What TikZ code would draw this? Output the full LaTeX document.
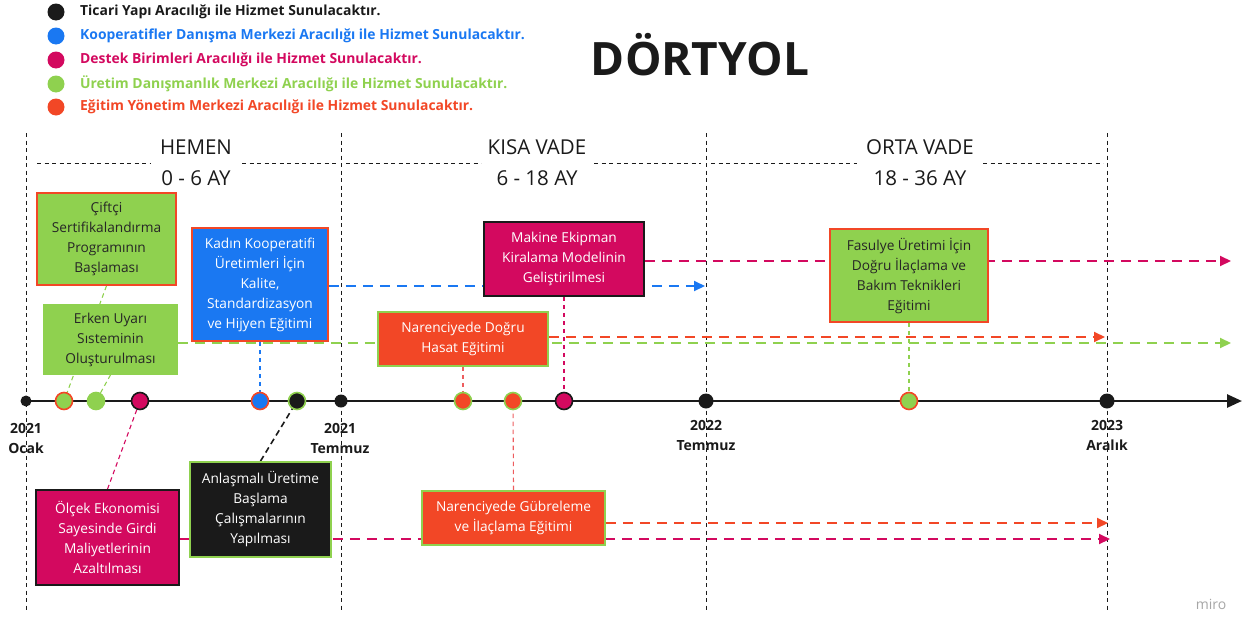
\documentclass[tikz,border=0pt]{standalone}
\usepackage{fontspec}
\setmainfont{Open Sans}
\usetikzlibrary{arrows.meta,backgrounds}
\definecolor{cblk}{HTML}{1A1A1A}
\definecolor{cblu}{HTML}{1A78F2}
\definecolor{cmag}{HTML}{D3095F}
\definecolor{cgrn}{HTML}{8FD14F}
\definecolor{corg}{HTML}{F24726}
\definecolor{ctxt}{HTML}{262626}
\begin{document}
\begin{tikzpicture}[x=1pt,y=-1pt,
  box/.style={draw, line width=1.8pt, align=center, inner sep=0pt,
    font=\fontsize{13.7}{20}\selectfont},
  mk/.style={circle, inner sep=0pt, minimum size=17, line width=1.6pt},
  bdot/.style={circle, inner sep=0pt, fill=cblk, draw=none},
  legdot/.style={circle, inner sep=0pt, minimum size=17, draw=none},
  legtxt/.style={anchor=west, inner sep=0pt, font=\fontsize{13.9}{15}\bfseries\selectfont},
  per/.style={inner sep=0pt, font=\fontsize{20.5}{22}\selectfont, text=cblk},
  lbl/.style={align=center, inner sep=0pt, font=\fontsize{14}{20}\bfseries\selectfont, text=cblk},
  grid/.style={cblk, line width=1pt, dash pattern=on 4pt off 3.5pt},
  conn/.style={line width=1.1pt, dash pattern=on 4.5pt off 3.5pt},
  dur/.style={line width=2pt, dash pattern=on 10pt off 7pt, -{Triangle[length=11pt,width=10pt]}}
]
\useasboundingbox (0,0) rectangle (1253,616);

% legend
\node[legdot, fill=cblk] (d1) at (56,12) {};
\node[legdot, fill=cblu] (d2) at (56,36) {};
\node[legdot, fill=cmag] (d3) at (56,60) {};
\node[legdot, fill=cgrn] (d4) at (56,84) {};
\node[legdot, fill=corg] (d5) at (56,107) {};
\node[legtxt, text=cblk] (t1) at (80,12) {Ticari Yapı Aracılığı ile Hizmet Sunulacaktır.};
\node[legtxt, text=cblu] (t2) at (80,36) {Kooperatifler Danışma Merkezi Aracılığı ile Hizmet Sunulacaktır.};
\node[legtxt, text=cmag] (t3) at (80,60) {Destek Birimleri Aracılığı ile Hizmet Sunulacaktır.};
\node[legtxt, text=cgrn] (t4) at (80,84) {Üretim Danışmanlık Merkezi Aracılığı ile Hizmet Sunulacaktır.};
\node[legtxt, text=corg] (t5) at (80,107) {Eğitim Yönetim Merkezi Aracılığı ile Hizmet Sunulacaktır.};

% title
\node[inner sep=0pt, font=\fontsize{46}{50}\bfseries\selectfont, text=cblk] (title) at (700,55) {DÖRTYOL};

% periods
\node[per] (p1a) at (196,147) {HEMEN};
\node[per] (p1b) at (196,178) {0 - 6 AY};
\node[per] (p2a) at (537,147) {KISA VADE};
\node[per] (p2b) at (537,178) {6 - 18 AY};
\node[per] (p3a) at (920,147) {ORTA VADE};
\node[per] (p3b) at (920,178) {18 - 36 AY};

% boxes
\node[box, fill=cgrn, draw=corg, text=ctxt, minimum width=139, minimum height=92] (b1) at (106.5,239)
  {Çiftçi\\Sertifikalandırma\\Programının\\Başlaması};
\node[box, fill=cgrn, draw=cgrn, text=ctxt, minimum width=133, minimum height=69] (b2) at (110.5,339.5)
  {Erken Uyarı\\Sısteminin\\Oluşturulması};
\node[box, fill=cblu, draw=corg, text=white, minimum width=136, minimum height=113] (b3) at (260,284.5)
  {Kadın Kooperatifi\\Üretimleri İçin\\Kalite,\\Standardizasyon\\ve Hijyen Eğitimi};
\node[box, fill=cmag, draw=cblk, text=white, minimum width=160, minimum height=74] (b4) at (564,259)
  {Makine Ekipman\\Kiralama Modelinin\\Geliştirilmesi};
\node[box, fill=corg, draw=cgrn, text=white, minimum width=170, minimum height=54] (b5) at (463,339)
  {Narenciyede Doğru\\Hasat Eğitimi};
\node[box, fill=cgrn, draw=corg, text=ctxt, minimum width=158, minimum height=93] (b6) at (909,275.5)
  {Fasulye Üretimi İçin\\Doğru İlaçlama ve\\Bakım Teknikleri\\Eğitimi};
\node[box, fill=cmag, draw=cblk, text=white, minimum width=143, minimum height=95] (b7) at (107.5,537.5)
  {Ölçek Ekonomisi\\Sayesinde Girdi\\Maliyetlerinin\\Azaltılması};
\node[box, fill=cblk, draw=cgrn, text=white, minimum width=141, minimum height=95] (b8) at (260.5,509.5)
  {Anlaşmalı Üretime\\Başlama\\Çalışmalarının\\Yapılması};
\node[box, fill=corg, draw=cgrn, text=white, minimum width=183, minimum height=54] (b9) at (513.5,518)
  {Narenciyede Gübreleme\\ve İlaçlama Eğitimi};

% markers
\node[bdot, minimum size=11] (m0) at (26,401) {};
\node[mk, fill=cgrn, draw=corg] (m1) at (64,401) {};
\node[mk, fill=cgrn, draw=cgrn] (m2) at (96,401) {};
\node[mk, fill=cmag, draw=cblk] (m3) at (140,401) {};
\node[mk, fill=cblu, draw=corg] (m4) at (260,401) {};
\node[mk, fill=cblk, draw=cgrn] (m5) at (297,401) {};
\node[bdot, minimum size=13] (m6) at (341,401) {};
\node[mk, fill=corg, draw=cgrn] (m7) at (463,401) {};
\node[mk, fill=corg, draw=cgrn] (m8) at (513,401) {};
\node[mk, fill=cmag, draw=cblk] (m9) at (564,401) {};
\node[bdot, minimum size=15] (m10) at (706,401) {};
\node[mk, fill=cgrn, draw=corg] (m11) at (909,401) {};
\node[bdot, minimum size=15] (m12) at (1107,401) {};
\coordinate (axEnd) at (1242,401);

% axis labels
\node[lbl] (l1) at (26,438) {2021\\Ocak};
\node[lbl] (l2) at (340,438) {2021\\Temmuz};
\node[lbl] (l3) at (706,435) {2022\\Temmuz};
\node[lbl] (l4) at (1107,435) {2023\\Aralık};

% watermark
\node[inner sep=0pt, font=\fontsize{14}{16}\selectfont, text=black!35] (miro) at (1211,604) {miro};

% arrow ends
\coordinate (eBlu) at (705,286);
\coordinate (eMag1) at (1231,261);
\coordinate (eGrn) at (1231,343);
\coordinate (eOrg1) at (1105,337);
\coordinate (eOrg2) at (1108,523);
\coordinate (eMag2) at (1110,539);

\begin{scope}[on background layer]
  % vertical grid lines
  \draw[grid] (26,133) -- (26,611);
  \draw[grid] (341,133) -- (341,611);
  \draw[grid] (706,133) -- (706,611);
  \draw[grid] (1107,133) -- (1107,611);
  % horizontal period lines
  \draw[grid] (37,163) -- (151,163);
  \draw[grid] (242,163) -- (336,163);
  \draw[grid] (346,163) -- (481,163);
  \draw[grid] (594,163) -- (701,163);
  \draw[grid] (711,163) -- (857,163);
  \draw[grid] (983,163) -- (1103,163);
  % axis
  \draw[cblk, line width=2.6pt, -{Triangle[length=15pt,width=13pt]}] (m0.center) -- (axEnd);
  % connectors
  \draw[conn, cgrn] (b1.south) -- (m1.center);
  \draw[conn, cgrn] (b2.south) -- (m2.center);
  \draw[conn, cmag] (b7.north) -- (m3.center);
  \draw[conn, cblu] (b3.south) -- (m4.center);
  \draw[cblk, line width=1.6pt, dash pattern=on 6pt off 4pt] (b8.north) -- (m5.center);
  \draw[conn, corg!70!cmag!80] (b5.south) -- (m7.center);
  \draw[conn, corg!70!cmag!80] (b9.north) -- (m8.center);
  \draw[conn, cmag] (b4.south) -- (m9.center);
  \draw[conn, cgrn] (b6.south) -- (m11.center);
  % duration arrows
  \draw[dur, cblu] (b3.east |- eBlu) -- (eBlu);
  \draw[dur, cmag] (b4.east |- eMag1) -- (eMag1);
  \draw[dur, cgrn] (b2.east |- eGrn) -- (eGrn);
  \draw[dur, corg] (b5.east |- eOrg1) -- (eOrg1);
  \draw[dur, corg] (b9.east |- eOrg2) -- (eOrg2);
  \draw[dur, cmag] (b7.east |- eMag2) -- (eMag2);
\end{scope}
\end{tikzpicture}
\end{document}
